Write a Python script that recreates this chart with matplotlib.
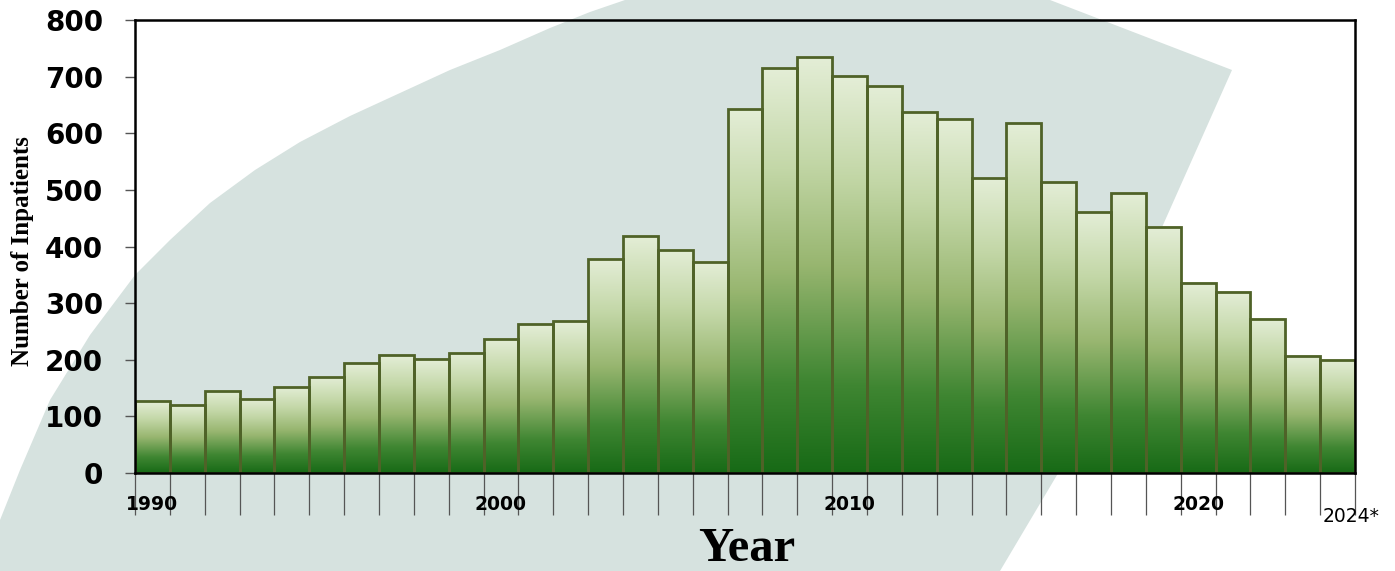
import numpy as np
import matplotlib
matplotlib.use("Agg")
import matplotlib.pyplot as plt
from matplotlib.colors import LinearSegmentedColormap
from matplotlib.patches import Polygon

# data
years = list(range(1990, 2025))
inpatients = [127, 120, 145, 131, 152, 170, 194, 208, 201, 212,
              237, 263, 268, 378, 419, 394, 373, 643, 716, 735,
              701, 684, 638, 625, 521, 618, 514, 461, 495, 435,
              336, 320, 272, 207, 200]
label_years = [1990, 2000, 2010, 2020]
yticks = [0, 100, 200, 300, 400, 500, 600, 700, 800]

W, H = 1395, 571
fig = plt.figure(figsize=(W / 100, H / 100), dpi=100)

# faded logo in the background (rough shape)
px = [(0, 571), (0, 520), (20, 470), (50, 400), (90, 335), (135, 275),
      (170, 240), (210, 203), (255, 170), (300, 142), (350, 116),
      (400, 93), (450, 70), (500, 50), (550, 28), (590, 12), (625, 0),
      (1050, 0), (1232, 70), (1163, 225), (1060, 470), (1000, 571)]
wm = Polygon([(x / W, 1 - y / H) for x, y in px], closed=True,
             transform=fig.transFigure, facecolor="#d6e2df",
             edgecolor="none", zorder=-1)
fig.patches.append(wm)

ax = fig.add_axes([135 / W, 1 - 473 / H, 1220 / W, 453 / H])
ax.set_facecolor("none")

cmap = LinearSegmentedColormap.from_list(
    "bargrad", [(0.0, "#176a16"), (0.22, "#3f8632"), (0.5, "#98b670"),
                (0.75, "#c3d7a7"), (1.0, "#e4eed7")])
grad = np.linspace(0, 1, 256).reshape(-1, 1)

for yr, v in zip(years, inpatients):
    ax.imshow(grad, cmap=cmap, origin="lower", aspect="auto",
              extent=[yr - 0.5, yr + 0.5, 0, v], zorder=2)
ax.bar(years, inpatients, width=1.0, facecolor="none",
       edgecolor="#4f6228", linewidth=2, zorder=3)

ax.set_xlim(1989.5, 2024.5)
ax.set_ylim(0, 800)

# long separator ticks between years, labels at bar centres
ax.set_xticks([y - 0.5 for y in years] + [2024.5])
ax.set_xticklabels([])
ax.tick_params(axis="x", which="major", length=30, width=0.9,
               color="#555555", direction="out")
ax.set_xticks(label_years, minor=True)
ax.set_xticklabels([str(y) for y in label_years], minor=True,
                   fontsize=13.5, fontweight="bold")
ax.tick_params(axis="x", which="minor", length=0, pad=16)

ax.set_yticks(yticks)
ax.set_yticklabels([str(t) for t in yticks], fontsize=20, fontweight="bold")
ax.tick_params(axis="y", length=7, width=1, color="#555555", pad=16)

for s in ax.spines.values():
    s.set_linewidth(1.8)
    s.set_color("black")
    s.set_zorder(4)

ax.annotate("2024*", xy=(2024, 0), xycoords="data", xytext=(10, -35),
            textcoords="offset points", ha="center", va="baseline",
            fontsize=13.5, annotation_clip=False)

fig.text(23 / W, 1 - 251 / H, "Number of Inpatients", rotation=90,
         ha="center", va="center", fontsize=18, fontweight="bold",
         family="Liberation Serif")
fig.text(747 / W, 1 - 561 / H, "Year", ha="center", va="baseline",
         fontsize=35, fontweight="bold", family="Liberation Serif")

fig.savefig("out.png", dpi=100)
